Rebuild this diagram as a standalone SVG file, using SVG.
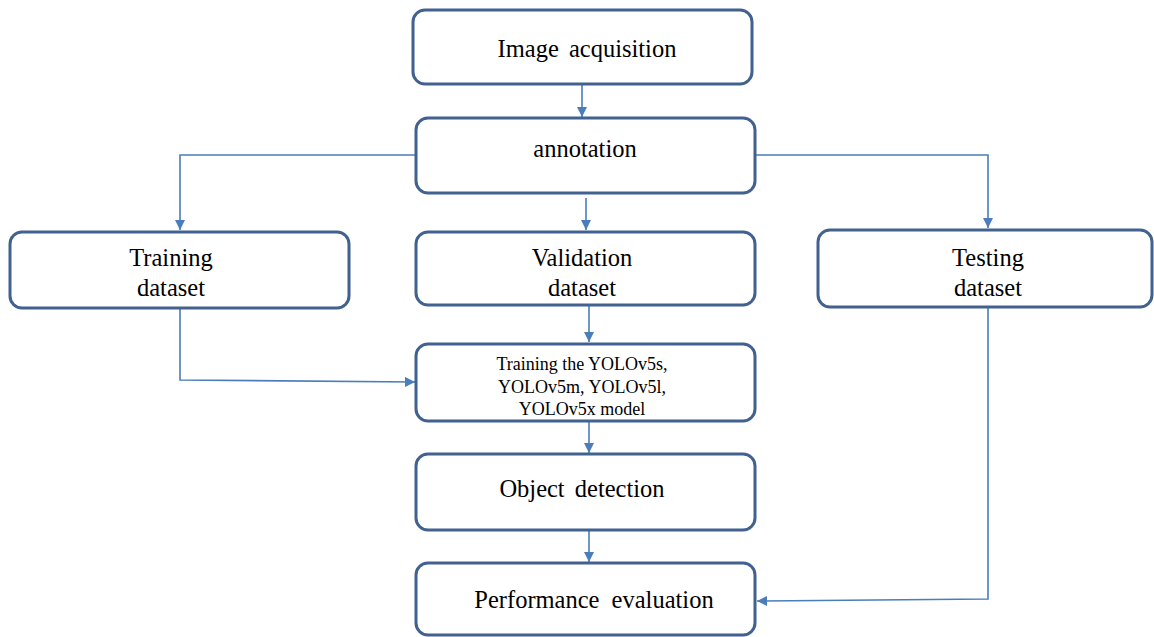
<svg xmlns="http://www.w3.org/2000/svg" width="1154" height="637" viewBox="0 0 1154 637">
<style>
.box{fill:#fff;stroke:#41618F;stroke-width:3}
.t{font-family:"Liberation Serif","Times New Roman",serif;font-size:24.5px;fill:#000;text-anchor:middle}
.s{font-size:18px}
.c{fill:none;stroke:#4A7EBB;stroke-width:1.6}
</style>
<defs>
<marker id="ah" viewBox="0 0 10 10" refX="10" refY="5" markerWidth="10" markerHeight="10" markerUnits="userSpaceOnUse" orient="auto">
<path d="M0,0 L10,5 L0,10 z" fill="#4A7EBB"/>
</marker>
</defs>
<rect width="1154" height="637" fill="#fff"/>
<g id="connectors">
<path class="c" d="M582,84 V117" marker-end="url(#ah)"/>
<path class="c" d="M416,155 H180 V230" marker-end="url(#ah)"/>
<path class="c" d="M755,155 H988 V228" marker-end="url(#ah)"/>
<path class="c" d="M586,198 V230" marker-end="url(#ah)"/>
<path class="c" d="M589,306 V342" marker-end="url(#ah)"/>
<path class="c" d="M180,308 V380 L415,382" marker-end="url(#ah)"/>
<path class="c" d="M589,421 V453" marker-end="url(#ah)"/>
<path class="c" d="M589,531 V562" marker-end="url(#ah)"/>
<path class="c" d="M988,307 V599 L757,601" marker-end="url(#ah)"/>
</g>
<g id="image-acquisition">
<rect class="box" x="413" y="10" width="339" height="74" rx="12"/>
<text class="t" x="587" y="57" word-spacing="4">Image acquisition</text>
</g>
<g id="annotation">
<rect class="box" x="416" y="118" width="339" height="75" rx="12"/>
<text class="t" x="585" y="157">annotation</text>
</g>
<g id="training-dataset">
<rect class="box" x="10" y="232" width="339" height="76" rx="12"/>
<text class="t" x="171" y="266">Training</text>
<text class="t" x="171" y="296">dataset</text>
</g>
<g id="validation-dataset">
<rect class="box" x="416" y="232" width="339" height="73" rx="12"/>
<text class="t" x="582" y="266">Validation</text>
<text class="t" x="582" y="296">dataset</text>
</g>
<g id="testing-dataset">
<rect class="box" x="818" y="230" width="334" height="77" rx="12"/>
<text class="t" x="988" y="266">Testing</text>
<text class="t" x="988" y="296">dataset</text>
</g>
<g id="training-yolo">
<rect class="box" x="416" y="344" width="339" height="77" rx="12"/>
<text class="t s" x="582" y="370">Training the YOLOv5s,</text>
<text class="t s" x="582" y="393">YOLOv5m, YOLOv5l,</text>
<text class="t s" x="582" y="415">YOLOv5x model</text>
</g>
<g id="object-detection">
<rect class="box" x="416" y="454" width="339" height="76" rx="12"/>
<text class="t" x="582" y="497" word-spacing="4">Object detection</text>
</g>
<g id="performance-evaluation">
<rect class="box" x="416" y="563" width="339" height="72" rx="12"/>
<text class="t" x="594" y="608" word-spacing="6">Performance evaluation</text>
</g>
</svg>
